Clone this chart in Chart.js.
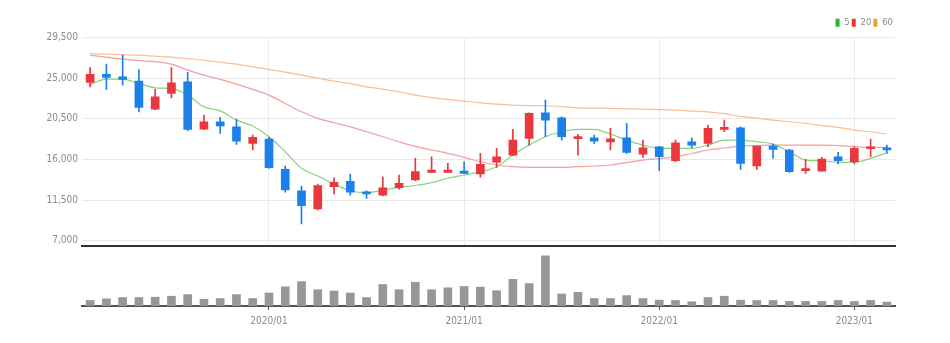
<!DOCTYPE html>
<html>
<head>
<meta charset="utf-8">
<script src="https://cdn.jsdelivr.net/npm/chart.js@4.4.0/dist/chart.umd.min.js"></script>
<style>
  html, body { margin: 0; padding: 0; background: #fff; }
  #wrap { position: relative; width: 950px; height: 343px; overflow: hidden; }
  #price { position: absolute; left: 0; top: 0; }
  #vol { position: absolute; left: 0; top: 250px; }
</style>
</head>
<body>
<div id="wrap">
  <canvas id="price" width="950" height="248"></canvas>
  <canvas id="vol" width="950" height="86"></canvas>
</div>
<script>
// monthly candles, 2019/02 .. 2023/03
const months = [
  '2019/02','2019/03','2019/04','2019/05','2019/06','2019/07','2019/08','2019/09','2019/10','2019/11','2019/12',
  '2020/01','2020/02','2020/03','2020/04','2020/05','2020/06','2020/07','2020/08','2020/09','2020/10','2020/11','2020/12',
  '2021/01','2021/02','2021/03','2021/04','2021/05','2021/06','2021/07','2021/08','2021/09','2021/10','2021/11','2021/12',
  '2022/01','2022/02','2022/03','2022/04','2022/05','2022/06','2022/07','2022/08','2022/09','2022/10','2022/11','2022/12',
  '2023/01','2023/02','2023/03'
];

const opens  = [24520,25410,25140,24670,21570,23310,24590,19360,20170,19610,17780,
                18250,14900,12530,10510,12980,13570,12390,12030,12880,13720,14570,14570,
                14710,14380,15680,16480,18330,21160,20610,18300,18400,17950,18400,16590,
                17400,15850,17950,17780,19330,19500,15270,17480,17040,14750,14710,16290,
                15740,17180,17290];
const closes = [25410,25080,24860,21760,22930,24480,19330,20170,19720,18030,18440,
                15080,12610,10880,13090,13460,12360,12180,12850,13350,14640,14820,14820,
                14460,15450,16290,18140,21090,20350,18510,18400,18030,18290,16780,17290,
                16290,17840,17590,19440,19500,15560,17480,17110,14640,14900,16040,15850,
                17220,17400,17040];
const highs  = [26180,26550,27540,25960,23750,26180,25630,20910,20650,20460,18690,
                18440,15270,13050,13280,13970,14380,12530,14080,14270,16120,16290,15560,
                15740,16670,17220,19330,21160,22570,20720,18770,18690,19440,19990,18140,
                17450,18140,18400,19800,20350,19600,17500,17700,17110,16010,16230,16780,
                17400,18250,17590];
const lows   = [24040,23750,24220,21270,21500,22820,19170,19300,18880,17670,17040,
                15010,12360,8850,10400,12170,12030,11690,11950,12690,13640,14530,14570,
                14460,14020,15120,16400,17590,18510,18140,16480,17780,17040,16670,16230,
                14750,15740,17270,17400,19060,14900,14900,16120,14570,14460,14700,15490,
                15490,16290,16670];

// moving averages as drawn
const ma5  = [24300,24890,24890,24410,23930,23860,23120,21820,21380,20350,19690,
              18510,16850,15010,14160,13280,12530,12310,12610,12910,13110,13420,13910,
              14270,14640,15190,16480,17590,18510,19060,19330,19330,18810,18140,17590,
              17220,17220,17220,17590,18140,18140,17950,17700,16850,15930,15850,15680,
              15680,16120,16740];
const ma20 = [27540,27320,27100,26930,26820,26550,25880,25330,24860,24340,23750,
              23120,22200,21270,20540,20060,19610,19060,18510,17950,17440,17040,16670,
              16230,15740,15380,15190,15120,15120,15120,15190,15270,15380,15650,15930,
              16100,16290,16650,17040,17260,17480,17530,17590,17590,17590,17590,17530,
              17420,17330,17330];
const ma60 = [27710,27650,27600,27540,27430,27320,27160,26990,26770,26550,26250,
              25960,25660,25330,25000,24670,24390,24040,23780,23480,23120,22840,22640,
              22460,22270,22120,22010,21960,21940,21850,21710,21680,21650,21600,21570,
              21520,21460,21350,21270,21070,20760,20580,20350,20170,19990,19750,19550,
              19250,19060,18810];

// volume (relative units)
const volumes = [17,22,26,26,27,30,35,21,23,35,23,
                 40,59,75,50,46,40,26,66,50,73,50,56,
                 60,58,47,82,69,154,37,42,23,23,32,23,
                 18,17,13,26,30,18,17,17,14,14,14,17,
                 14,17,12];

const priceTicks = [7000, 11500, 16000, 20500, 25000, 29500];
const maNames = ['5', '20', '60'];
const maLegendColors = ['#27b52d', '#ef3434', '#f39a3b'];
const maLineColors = ['rgba(130,208,120,0.95)', 'rgba(245,152,152,0.95)', 'rgba(249,188,140,0.95)'];

const upColor = '#e8383d';
const downColor = '#1b80ea';
const candleColors = closes.map((c, i) => c >= opens[i] ? upColor : downColor);

const fontFamily = "'Liberation Sans Narrow', 'DejaVu Sans Condensed', sans-serif";
Chart.defaults.font.family = fontFamily;
Chart.defaults.color = '#8a8a8a';

const isJan = i => months[i] && months[i].endsWith('/01');

const maLine = (i, data) => ({
  type: 'line',
  label: maNames[i],
  data: data,
  borderColor: maLineColors[i],
  borderWidth: 1.2,
  pointRadius: 0,
  cubicInterpolationMode: 'monotone',
  order: 3
});

new Chart(document.getElementById('price'), {
  type: 'bar',
  data: {
    labels: months,
    datasets: [
      maLine(0, ma5),
      maLine(1, ma20),
      maLine(2, ma60),
      {
        label: 'wick',
        data: lows.map((l, i) => [l, highs[i]]),
        backgroundColor: candleColors,
        barThickness: 1,
        grouped: false,
        order: 2
      },
      {
        label: 'body',
        data: opens.map((o, i) => [o, closes[i]]),
        backgroundColor: candleColors,
        barThickness: 8,
        minBarLength: 2,
        grouped: false,
        order: 1
      }
    ]
  },
  options: {
    responsive: false,
    animation: false,
    layout: { padding: { left: 0, right: 55, top: 16, bottom: 2 } },
    plugins: {
      tooltip: { enabled: false },
      legend: {
        position: 'top',
        align: 'end',
        labels: {
          boxWidth: 4,
          boxHeight: 8,
          padding: 2,
          font: { size: 9.5 },
          color: '#8a8a8a',
          generateLabels: () => maNames.map((n, i) => ({
            text: n,
            fillStyle: maLegendColors[i],
            strokeStyle: maLegendColors[i],
            lineWidth: 0,
            hidden: false,
            datasetIndex: i,
            fontColor: '#8a8a8a'
          }))
        }
      }
    },
    scales: {
      x: {
        offset: true,
        afterFit: s => { s.height = 0; },
        grid: {
          offset: false,
          drawTicks: false,
          color: ctx => isJan(ctx.index) ? '#ececec' : 'rgba(0,0,0,0)'
        },
        ticks: { display: false },
        border: { color: '#333', width: 2 }
      },
      y: {
        min: 6410,
        max: 29500,
        afterBuildTicks: s => { s.ticks = priceTicks.map(v => ({ value: v })); },
        // 7,000 sits above the bottom edge, so no room is needed for its label
        afterFit: s => { s.width = 82; s.paddingBottom = 0; },
        ticks: {
          padding: 4,
          font: { size: 10 },
          color: '#8a8a8a',
          callback: v => v.toLocaleString('en-US')
        },
        grid: { color: '#e9e9e9', drawTicks: false },
        border: { display: false }
      }
    }
  }
});

new Chart(document.getElementById('vol'), {
  type: 'bar',
  data: {
    labels: months,
    datasets: [{
      label: 'volume',
      data: volumes,
      backgroundColor: '#979797',
      barThickness: 8
    }]
  },
  options: {
    responsive: false,
    animation: false,
    layout: { padding: { left: 82, right: 55, top: 0, bottom: 4 } },
    plugins: { legend: { display: false }, tooltip: { enabled: false } },
    scales: {
      x: {
        offset: true,
        grid: {
          offset: false,
          drawOnChartArea: false,
          tickLength: 4,
          tickColor: ctx => isJan(ctx.index) ? '#555' : 'rgba(0,0,0,0)'
        },
        ticks: {
          autoSkip: false,
          maxRotation: 0,
          padding: 5,
          font: { size: 10 },
          color: '#8a8a8a',
          callback: (v, i) => isJan(i) ? months[i] : ''
        },
        border: { color: '#555', width: 2 }
      },
      y: { display: false, min: 0, max: 172 }
    }
  }
});
</script>
</body>
</html>
